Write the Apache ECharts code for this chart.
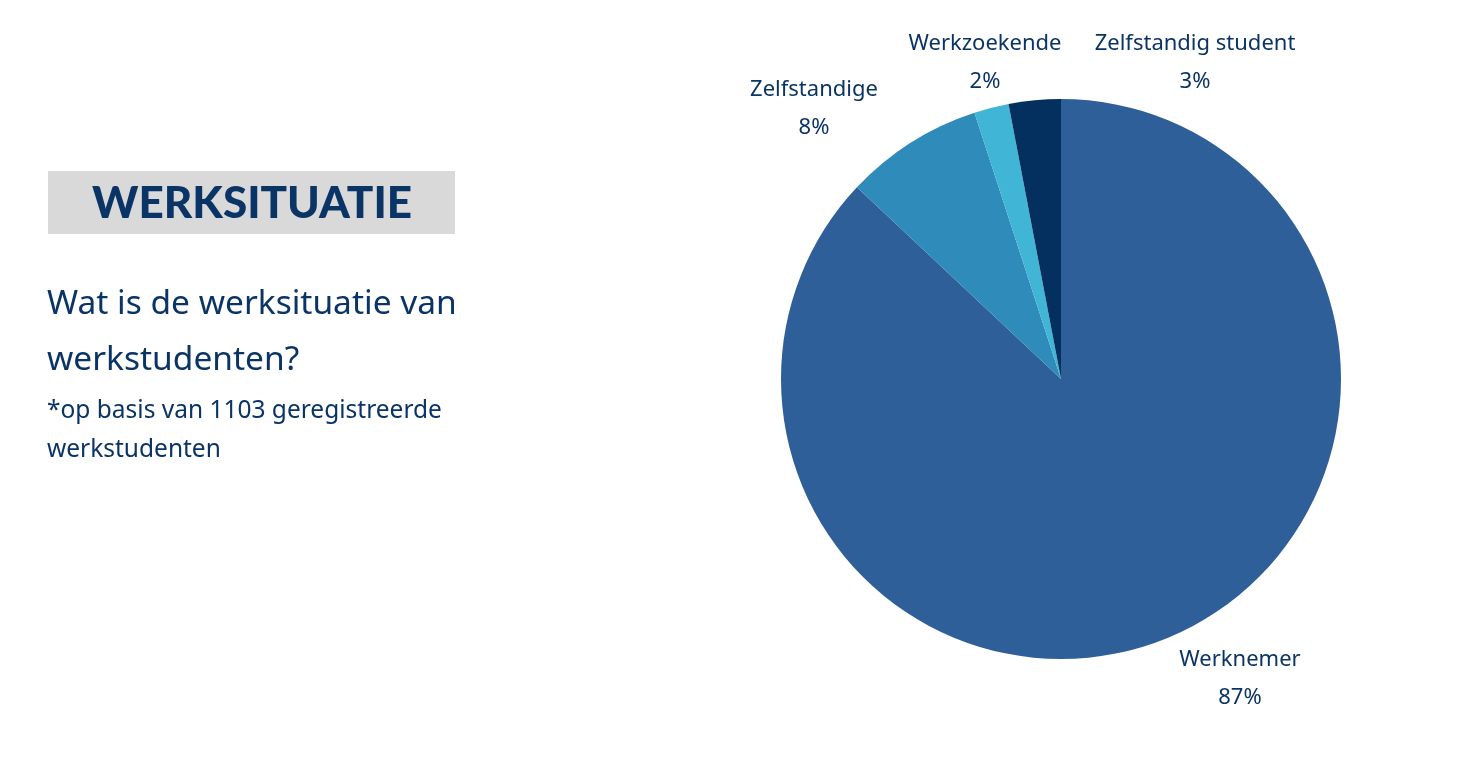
<!DOCTYPE html>
<html>
<head>
<meta charset="utf-8">
<script src="https://cdn.jsdelivr.net/npm/echarts@6/dist/echarts.min.js"></script>
<style>
  html, body { margin: 0; padding: 0; background: #fff; }
  #chart { width: 1460px; height: 758px; }
</style>
</head>
<body>
<div id="chart"></div>
<script>
const categories = ["Werknemer", "Zelfstandige", "Werkzoekende", "Zelfstandig student"];
const shares = [87, 8, 2, 3];
const colors = ["#2F5F98", "#2E8BBA", "#40B5D5", "#03305F"];

const navy = "#0B3466";
const bodyFont = "'Noto Sans', sans-serif";

// where each label block sits (centre of the two lines), like the original layout
const labelSpots = {
  "Werknemer": [1240, 679],
  "Zelfstandige": [814, 109],
  "Werkzoekende": [985, 63],
  "Zelfstandig student": [1195, 63]
};

const chart = echarts.init(document.getElementById("chart"));

chart.setOption({
  backgroundColor: "#fff",
  animation: false,
  graphic: [
    { type: "rect", shape: { x: 48, y: 171, width: 407, height: 63 }, style: { fill: "#D9D9D9" } },
    { type: "text", x: 252, y: 204, style: { text: "WERKSITUATIE", fill: navy, font: "900 44px Lato", textAlign: "center", textVerticalAlign: "middle" } },
    { type: "text", x: 47, y: 304, style: { text: "Wat is de werksituatie van", fill: navy, font: "33.5px " + bodyFont, textVerticalAlign: "middle" } },
    { type: "text", x: 47, y: 360, style: { text: "werkstudenten?", fill: navy, font: "33.5px " + bodyFont, textVerticalAlign: "middle" } },
    { type: "text", x: 47, y: 411, style: { text: "*op basis van 1103 geregistreerde", fill: navy, font: "24.5px " + bodyFont, textVerticalAlign: "middle" } },
    { type: "text", x: 47, y: 450, style: { text: "werkstudenten", fill: navy, font: "24.5px " + bodyFont, textVerticalAlign: "middle" } }
  ],
  series: [{
    type: "pie",
    center: [1061, 379],
    radius: 280,
    startAngle: 90,
    clockwise: true,
    data: categories.map((name, i) => ({ name, value: shares[i], itemStyle: { color: colors[i] } })),
    label: {
      show: true,
      position: "outside",
      formatter: "{b}\n{c}%",
      color: navy,
      fontFamily: bodyFont,
      fontSize: 22,
      lineHeight: 38
    },
    labelLine: { show: false },
    labelLayout: function (params) {
      const spot = labelSpots[categories[params.dataIndex]];
      return { x: spot[0], y: spot[1], align: "center", verticalAlign: "middle", hideOverlap: false, moveOverlap: null };
    },
    emphasis: { disabled: true }
  }]
});
</script>
</body>
</html>
